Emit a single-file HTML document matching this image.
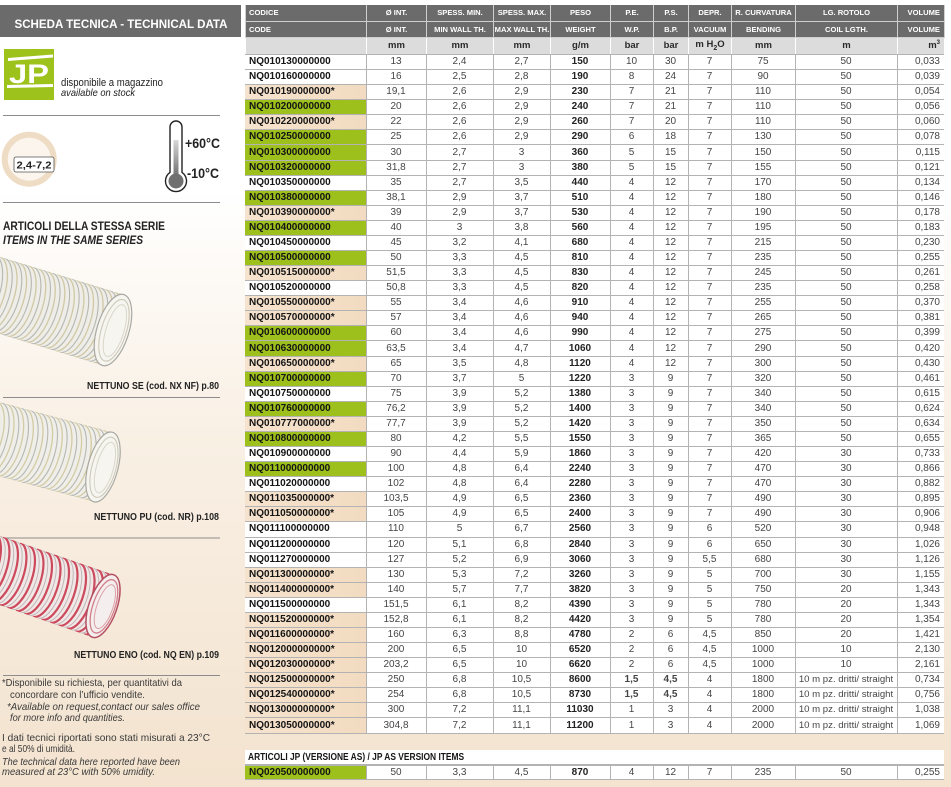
<!DOCTYPE html>
<html><head><meta charset="utf-8">
<style>
html,body{margin:0;padding:0}
body{width:951px;height:787px;position:relative;overflow:hidden;background:linear-gradient(180deg,#ffffff 0px,#ffffff 190px,#f9f0e5 430px,#f3e3cf 787px);font-family:"Liberation Sans",sans-serif}
.t{position:absolute;left:245px;width:699px;border-collapse:collapse;table-layout:fixed}
.t td{padding:0;text-align:center;overflow:hidden;white-space:nowrap}
#h{top:5px;height:49px}
#h tr.a td,#h tr.b td{background:#6b6b6b;color:#fff;font-weight:bold;font-size:7.6px;border:1px solid #cfcfcf;border-top:none}
#h tr.a{height:16px}#h tr.b{height:16px}#h tr.c{height:17px}
#h tr.c td{background:#dcdcdc;color:#2a2a2a;font-weight:bold;font-size:9.5px;border-left:1px solid #fff;border-right:1px solid #fff}
#h td:first-child{text-align:left;padding-left:3px;border-left:none}
#h td:last-child{text-align:right;padding-right:4px;border-right:none}
#d{top:54px;height:680px}
#d td,#b td{border:1px solid #b3b3b3;font-size:10px;line-height:10px;color:#454545;background:#fff}
#d td:first-child,#b td:first-child{text-align:left;padding-left:4px;font-weight:bold;color:#141414;border-left:none}
#d td:nth-child(5),#b td:nth-child(5){font-weight:bold;color:#222}
#d td:last-child,#b td:last-child{text-align:right;padding-right:4px;border-right:none}
#d tr.g td:first-child,#b tr.g td:first-child{background:#9dc01c}
#d tr.p td:first-child{background:linear-gradient(90deg,#f6e3ce,#f2dbc0)}
td.s{font-size:9.6px !important}
#band{position:absolute;left:245px;top:750px;width:699px;height:15px;background:#fff;border-bottom:1px solid #b3b3b3;box-sizing:border-box}
#band span{position:absolute;left:3px;top:2px;font-weight:bold;font-size:10px;line-height:11px;color:#151515;white-space:nowrap;transform:scaleX(0.84);transform-origin:0 0}
#b{top:765px;height:15px}
</style></head><body>

<svg style="position:absolute;left:0;top:0" width="245" height="787" viewBox="0 0 245 787" font-family="'Liberation Sans', sans-serif">
<defs>
<linearGradient id="mg" x1="0" y1="0" x2="0" y2="1"><stop offset="0" stop-color="#d8d8d8"/><stop offset="1" stop-color="#707070"/></linearGradient>
<clipPath id="c1"><rect x="-220" y="-37" width="220" height="74"/><ellipse cx="0" cy="0" rx="16" ry="37"/></clipPath>
<clipPath id="c2"><rect x="-220" y="-36" width="220" height="72"/><ellipse cx="0" cy="0" rx="15" ry="36"/></clipPath>
<clipPath id="c3"><rect x="-220" y="-33" width="220" height="66"/><ellipse cx="0" cy="0" rx="14" ry="33"/></clipPath>
</defs>
<rect x="0" y="5" width="241" height="32" fill="#6b6b6b"/>
<text x="121" y="28" text-anchor="middle" font-weight="bold" font-size="11.5" fill="#fff" textLength="213" lengthAdjust="spacingAndGlyphs">SCHEDA TECNICA - TECHNICAL DATA</text>
<rect x="4" y="49" width="50" height="51" fill="#9dc21c"/>
<polygon points="8,58 53,54.5 53,57.5 8,61" fill="#fff"/>
<text x="9" y="83" font-weight="bold" font-size="27" fill="#fff" textLength="40" lengthAdjust="spacingAndGlyphs">JP</text>
<polygon points="7,85 53,84 53,87 7,88" fill="#fff"/>
<text x="61" y="86" font-size="11" fill="#222" textLength="102" lengthAdjust="spacingAndGlyphs">disponibile a magazzino</text>
<text x="61" y="96" font-size="10.5" font-style="italic" fill="#222" textLength="74" lengthAdjust="spacingAndGlyphs">available on stock</text>
<line x1="3" y1="115.5" x2="220" y2="115.5" stroke="#8c8c8c" stroke-width="1"/>
<circle cx="29.2" cy="159.2" r="24.5" fill="#fbf5ee" stroke="#efdcc4" stroke-width="6"/>
<rect x="14" y="157" width="40" height="15" rx="2" fill="#fff" stroke="#555" stroke-width="0.8"/>
<text x="34" y="168.5" text-anchor="middle" font-weight="bold" font-size="10" fill="#222" textLength="35" lengthAdjust="spacingAndGlyphs">2,4-7,2</text>
<path d="M170,172.4 V127 A6,6 0 0 1 182,127 V172.4 A10.5,10.5 0 1 1 170,172.4 Z" fill="#fff" stroke="#222" stroke-width="1.4"/>
<rect x="173.5" y="140" width="5" height="36" fill="url(#mg)"/>
<circle cx="176" cy="181" r="7.5" fill="#707070"/>
<text x="185" y="148" font-weight="bold" font-size="13.5" fill="#222" textLength="35" lengthAdjust="spacingAndGlyphs">+60°C</text>
<text x="187" y="178" font-weight="bold" font-size="13.5" fill="#222" textLength="32" lengthAdjust="spacingAndGlyphs">-10°C</text>
<line x1="3" y1="202.5" x2="220" y2="202.5" stroke="#8c8c8c" stroke-width="1"/>
<text x="3" y="230" font-weight="bold" font-size="11.5" fill="#222" textLength="162" lengthAdjust="spacingAndGlyphs">ARTICOLI DELLA STESSA SERIE</text>
<text x="3" y="244" font-weight="bold" font-style="italic" font-size="11.5" fill="#222" textLength="140" lengthAdjust="spacingAndGlyphs">ITEMS IN THE SAME SERIES</text>

<g transform="translate(113,330) rotate(17)">
<g clip-path="url(#c1)">
<rect x="-220" y="-37" width="240" height="74" fill="#eeede7"/>
<path d="M0,-37a16,37 0 0 1 0,74M-10,-37a16,37 0 0 1 0,74M-20,-37a16,37 0 0 1 0,74M-30,-37a16,37 0 0 1 0,74M-40,-37a16,37 0 0 1 0,74M-50,-37a16,37 0 0 1 0,74M-60,-37a16,37 0 0 1 0,74M-70,-37a16,37 0 0 1 0,74M-80,-37a16,37 0 0 1 0,74M-90,-37a16,37 0 0 1 0,74M-100,-37a16,37 0 0 1 0,74M-110,-37a16,37 0 0 1 0,74M-120,-37a16,37 0 0 1 0,74M-130,-37a16,37 0 0 1 0,74M-140,-37a16,37 0 0 1 0,74M-150,-37a16,37 0 0 1 0,74" fill="none" stroke="#d0c8a4" stroke-width="1.3"/>
<path d="M-5,-37a16,37 0 0 1 0,74M-15,-37a16,37 0 0 1 0,74M-25,-37a16,37 0 0 1 0,74M-35,-37a16,37 0 0 1 0,74M-45,-37a16,37 0 0 1 0,74M-55,-37a16,37 0 0 1 0,74M-65,-37a16,37 0 0 1 0,74M-75,-37a16,37 0 0 1 0,74M-85,-37a16,37 0 0 1 0,74M-95,-37a16,37 0 0 1 0,74M-105,-37a16,37 0 0 1 0,74M-115,-37a16,37 0 0 1 0,74M-125,-37a16,37 0 0 1 0,74M-135,-37a16,37 0 0 1 0,74M-145,-37a16,37 0 0 1 0,74" fill="none" stroke="#b6b6b2" stroke-width="1.1"/>
</g>
<ellipse cx="0" cy="0" rx="16" ry="37" fill="#f6f5f0" stroke="#a9a9a2" stroke-width="1.2"/>
<ellipse cx="1" cy="0" rx="12.5" ry="32" fill="none" stroke="#cdc8b8" stroke-width="1.1"/>
<ellipse cx="2" cy="0" rx="9" ry="27" fill="none" stroke="#dad6c9" stroke-width="1"/>
</g>
<text x="219" y="389" text-anchor="end" font-weight="bold" font-size="10.5" fill="#222" textLength="132" lengthAdjust="spacingAndGlyphs">NETTUNO SE (cod. NX NF) p.80</text>
<line x1="3" y1="397.5" x2="220" y2="397.5" stroke="#8c8c8c" stroke-width="1"/>

<g transform="translate(103,467) rotate(15)">
<g clip-path="url(#c2)">
<rect x="-220" y="-36" width="240" height="72" fill="#efeee9"/>
<path d="M0,-36a15,36 0 0 1 0,72M-10,-36a15,36 0 0 1 0,72M-20,-36a15,36 0 0 1 0,72M-30,-36a15,36 0 0 1 0,72M-40,-36a15,36 0 0 1 0,72M-50,-36a15,36 0 0 1 0,72M-60,-36a15,36 0 0 1 0,72M-70,-36a15,36 0 0 1 0,72M-80,-36a15,36 0 0 1 0,72M-90,-36a15,36 0 0 1 0,72M-100,-36a15,36 0 0 1 0,72M-110,-36a15,36 0 0 1 0,72M-120,-36a15,36 0 0 1 0,72M-130,-36a15,36 0 0 1 0,72M-140,-36a15,36 0 0 1 0,72" fill="none" stroke="#d3cba3" stroke-width="1.3"/>
<path d="M-5,-36a15,36 0 0 1 0,72M-15,-36a15,36 0 0 1 0,72M-25,-36a15,36 0 0 1 0,72M-35,-36a15,36 0 0 1 0,72M-45,-36a15,36 0 0 1 0,72M-55,-36a15,36 0 0 1 0,72M-65,-36a15,36 0 0 1 0,72M-75,-36a15,36 0 0 1 0,72M-85,-36a15,36 0 0 1 0,72M-95,-36a15,36 0 0 1 0,72M-105,-36a15,36 0 0 1 0,72M-115,-36a15,36 0 0 1 0,72M-125,-36a15,36 0 0 1 0,72M-135,-36a15,36 0 0 1 0,72" fill="none" stroke="#b6b6b2" stroke-width="1.1"/>
</g>
<ellipse cx="0" cy="0" rx="15" ry="36" fill="#f6f5f0" stroke="#a9a9a2" stroke-width="1.2"/>
<ellipse cx="1" cy="0" rx="12" ry="31" fill="none" stroke="#cdc8b8" stroke-width="1.1"/>
<ellipse cx="2" cy="0" rx="8.5" ry="26" fill="none" stroke="#dad6c9" stroke-width="1"/>
</g>
<text x="219" y="520" text-anchor="end" font-weight="bold" font-size="10.5" fill="#222" textLength="125" lengthAdjust="spacingAndGlyphs">NETTUNO PU (cod. NR) p.108</text>
<line x1="3" y1="538" x2="220" y2="538" stroke="#8c8c8c" stroke-width="1"/>

<g transform="translate(103,606) rotate(19)">
<g clip-path="url(#c3)">
<rect x="-220" y="-33" width="240" height="66" fill="#f0e8e6"/>
<path d="M0,-33a14,33 0 0 1 0,66M-9,-33a14,33 0 0 1 0,66M-18,-33a14,33 0 0 1 0,66M-27,-33a14,33 0 0 1 0,66M-36,-33a14,33 0 0 1 0,66M-45,-33a14,33 0 0 1 0,66M-54,-33a14,33 0 0 1 0,66M-63,-33a14,33 0 0 1 0,66M-72,-33a14,33 0 0 1 0,66M-81,-33a14,33 0 0 1 0,66M-90,-33a14,33 0 0 1 0,66M-99,-33a14,33 0 0 1 0,66M-108,-33a14,33 0 0 1 0,66M-117,-33a14,33 0 0 1 0,66M-126,-33a14,33 0 0 1 0,66M-135,-33a14,33 0 0 1 0,66M-144,-33a14,33 0 0 1 0,66" fill="none" stroke="#cc4a5c" stroke-width="2.2"/>
<path d="M-4.5,-33a14,33 0 0 1 0,66M-13.5,-33a14,33 0 0 1 0,66M-22.5,-33a14,33 0 0 1 0,66M-31.5,-33a14,33 0 0 1 0,66M-40.5,-33a14,33 0 0 1 0,66M-49.5,-33a14,33 0 0 1 0,66M-58.5,-33a14,33 0 0 1 0,66M-67.5,-33a14,33 0 0 1 0,66M-76.5,-33a14,33 0 0 1 0,66M-85.5,-33a14,33 0 0 1 0,66M-94.5,-33a14,33 0 0 1 0,66M-103.5,-33a14,33 0 0 1 0,66M-112.5,-33a14,33 0 0 1 0,66M-121.5,-33a14,33 0 0 1 0,66M-130.5,-33a14,33 0 0 1 0,66M-139.5,-33a14,33 0 0 1 0,66" fill="none" stroke="#c0b6b6" stroke-width="1"/>
</g>
<ellipse cx="0" cy="0" rx="14" ry="33" fill="#f5eeee" stroke="#b45060" stroke-width="1.5"/>
<ellipse cx="1" cy="0" rx="11" ry="28" fill="none" stroke="#d27f8a" stroke-width="1.3"/>
<ellipse cx="2" cy="0" rx="8" ry="23" fill="none" stroke="#dca2a8" stroke-width="1"/>
</g>
<text x="219" y="658" text-anchor="end" font-weight="bold" font-size="10.5" fill="#222" textLength="145" lengthAdjust="spacingAndGlyphs">NETTUNO ENO (cod. NQ EN) p.109</text>
<line x1="3" y1="675.5" x2="220" y2="675.5" stroke="#8c8c8c" stroke-width="1"/>

<g font-size="10.5" fill="#3a3a3a">
<text x="2" y="686" textLength="180" lengthAdjust="spacingAndGlyphs">*Disponibile su richiesta, per quantitativi da</text>
<text x="10" y="698" textLength="135" lengthAdjust="spacingAndGlyphs">concordare con l’ufficio vendite.</text>
<text x="7" y="710" font-style="italic" textLength="193" lengthAdjust="spacingAndGlyphs">*Available on request,contact our sales office</text>
<text x="10" y="721" font-style="italic" textLength="115" lengthAdjust="spacingAndGlyphs">for more info and quantities.</text>
<text x="2" y="741" textLength="208" lengthAdjust="spacingAndGlyphs">I dati tecnici riportati sono stati misurati a 23°C</text>
<text x="2" y="752" textLength="73" lengthAdjust="spacingAndGlyphs">e al 50% di umidità.</text>
<text x="2" y="765" font-style="italic" textLength="178" lengthAdjust="spacingAndGlyphs">The technical data here reported have been</text>
<text x="2" y="775" font-style="italic" textLength="153" lengthAdjust="spacingAndGlyphs">measured at 23°C with 50% umidity.</text>
</g>
</svg>

<table class="t" id="h">
<colgroup><col style="width:121px"><col style="width:60px"><col style="width:67px"><col style="width:57px"><col style="width:60px"><col style="width:43px"><col style="width:35px"><col style="width:43px"><col style="width:64px"><col style="width:102px"><col style="width:47px"></colgroup>
<tr class="a"><td>CODICE</td><td>Ø INT.</td><td>SPESS. MIN.</td><td>SPESS. MAX.</td><td>PESO</td><td>P.E.</td><td>P.S.</td><td>DEPR.</td><td>R. CURVATURA</td><td>LG. ROTOLO</td><td>VOLUME</td></tr>
<tr class="b"><td>CODE</td><td>Ø INT.</td><td>MIN WALL TH.</td><td>MAX WALL TH.</td><td>WEIGHT</td><td>W.P.</td><td>B.P.</td><td>VACUUM</td><td>BENDING</td><td>COIL LGTH.</td><td>VOLUME</td></tr>
<tr class="c"><td></td><td>mm</td><td>mm</td><td>mm</td><td>g/m</td><td>bar</td><td>bar</td><td>m H<sub style="font-size:7px">2</sub>O</td><td>mm</td><td>m</td><td>m<sup style="font-size:6px">3</sup></td></tr>
</table>

<table class="t" id="d">
<colgroup><col style="width:121px"><col style="width:60px"><col style="width:67px"><col style="width:57px"><col style="width:60px"><col style="width:43px"><col style="width:35px"><col style="width:43px"><col style="width:64px"><col style="width:102px"><col style="width:47px"></colgroup>
<tr class="w"><td>NQ010130000000</td><td>13</td><td>2,4</td><td>2,7</td><td>150</td><td>10</td><td>30</td><td>7</td><td>75</td><td>50</td><td>0,033</td></tr>
<tr class="w"><td>NQ010160000000</td><td>16</td><td>2,5</td><td>2,8</td><td>190</td><td>8</td><td>24</td><td>7</td><td>90</td><td>50</td><td>0,039</td></tr>
<tr class="p"><td>NQ010190000000*</td><td>19,1</td><td>2,6</td><td>2,9</td><td>230</td><td>7</td><td>21</td><td>7</td><td>110</td><td>50</td><td>0,054</td></tr>
<tr class="g"><td>NQ010200000000</td><td>20</td><td>2,6</td><td>2,9</td><td>240</td><td>7</td><td>21</td><td>7</td><td>110</td><td>50</td><td>0,056</td></tr>
<tr class="p"><td>NQ010220000000*</td><td>22</td><td>2,6</td><td>2,9</td><td>260</td><td>7</td><td>20</td><td>7</td><td>110</td><td>50</td><td>0,060</td></tr>
<tr class="g"><td>NQ010250000000</td><td>25</td><td>2,6</td><td>2,9</td><td>290</td><td>6</td><td>18</td><td>7</td><td>130</td><td>50</td><td>0,078</td></tr>
<tr class="g"><td>NQ010300000000</td><td>30</td><td>2,7</td><td>3</td><td>360</td><td>5</td><td>15</td><td>7</td><td>150</td><td>50</td><td>0,115</td></tr>
<tr class="g"><td>NQ010320000000</td><td>31,8</td><td>2,7</td><td>3</td><td>380</td><td>5</td><td>15</td><td>7</td><td>155</td><td>50</td><td>0,121</td></tr>
<tr class="w"><td>NQ010350000000</td><td>35</td><td>2,7</td><td>3,5</td><td>440</td><td>4</td><td>12</td><td>7</td><td>170</td><td>50</td><td>0,134</td></tr>
<tr class="g"><td>NQ010380000000</td><td>38,1</td><td>2,9</td><td>3,7</td><td>510</td><td>4</td><td>12</td><td>7</td><td>180</td><td>50</td><td>0,146</td></tr>
<tr class="p"><td>NQ010390000000*</td><td>39</td><td>2,9</td><td>3,7</td><td>530</td><td>4</td><td>12</td><td>7</td><td>190</td><td>50</td><td>0,178</td></tr>
<tr class="g"><td>NQ010400000000</td><td>40</td><td>3</td><td>3,8</td><td>560</td><td>4</td><td>12</td><td>7</td><td>195</td><td>50</td><td>0,183</td></tr>
<tr class="w"><td>NQ010450000000</td><td>45</td><td>3,2</td><td>4,1</td><td>680</td><td>4</td><td>12</td><td>7</td><td>215</td><td>50</td><td>0,230</td></tr>
<tr class="g"><td>NQ010500000000</td><td>50</td><td>3,3</td><td>4,5</td><td>810</td><td>4</td><td>12</td><td>7</td><td>235</td><td>50</td><td>0,255</td></tr>
<tr class="p"><td>NQ010515000000*</td><td>51,5</td><td>3,3</td><td>4,5</td><td>830</td><td>4</td><td>12</td><td>7</td><td>245</td><td>50</td><td>0,261</td></tr>
<tr class="w"><td>NQ010520000000</td><td>50,8</td><td>3,3</td><td>4,5</td><td>820</td><td>4</td><td>12</td><td>7</td><td>235</td><td>50</td><td>0,258</td></tr>
<tr class="p"><td>NQ010550000000*</td><td>55</td><td>3,4</td><td>4,6</td><td>910</td><td>4</td><td>12</td><td>7</td><td>255</td><td>50</td><td>0,370</td></tr>
<tr class="p"><td>NQ010570000000*</td><td>57</td><td>3,4</td><td>4,6</td><td>940</td><td>4</td><td>12</td><td>7</td><td>265</td><td>50</td><td>0,381</td></tr>
<tr class="g"><td>NQ010600000000</td><td>60</td><td>3,4</td><td>4,6</td><td>990</td><td>4</td><td>12</td><td>7</td><td>275</td><td>50</td><td>0,399</td></tr>
<tr class="g"><td>NQ010630000000</td><td>63,5</td><td>3,4</td><td>4,7</td><td>1060</td><td>4</td><td>12</td><td>7</td><td>290</td><td>50</td><td>0,420</td></tr>
<tr class="p"><td>NQ010650000000*</td><td>65</td><td>3,5</td><td>4,8</td><td>1120</td><td>4</td><td>12</td><td>7</td><td>300</td><td>50</td><td>0,430</td></tr>
<tr class="g"><td>NQ010700000000</td><td>70</td><td>3,7</td><td>5</td><td>1220</td><td>3</td><td>9</td><td>7</td><td>320</td><td>50</td><td>0,461</td></tr>
<tr class="w"><td>NQ010750000000</td><td>75</td><td>3,9</td><td>5,2</td><td>1380</td><td>3</td><td>9</td><td>7</td><td>340</td><td>50</td><td>0,615</td></tr>
<tr class="g"><td>NQ010760000000</td><td>76,2</td><td>3,9</td><td>5,2</td><td>1400</td><td>3</td><td>9</td><td>7</td><td>340</td><td>50</td><td>0,624</td></tr>
<tr class="p"><td>NQ010777000000*</td><td>77,7</td><td>3,9</td><td>5,2</td><td>1420</td><td>3</td><td>9</td><td>7</td><td>350</td><td>50</td><td>0,634</td></tr>
<tr class="g"><td>NQ010800000000</td><td>80</td><td>4,2</td><td>5,5</td><td>1550</td><td>3</td><td>9</td><td>7</td><td>365</td><td>50</td><td>0,655</td></tr>
<tr class="w"><td>NQ010900000000</td><td>90</td><td>4,4</td><td>5,9</td><td>1860</td><td>3</td><td>9</td><td>7</td><td>420</td><td>30</td><td>0,733</td></tr>
<tr class="g"><td>NQ011000000000</td><td>100</td><td>4,8</td><td>6,4</td><td>2240</td><td>3</td><td>9</td><td>7</td><td>470</td><td>30</td><td>0,866</td></tr>
<tr class="w"><td>NQ011020000000</td><td>102</td><td>4,8</td><td>6,4</td><td>2280</td><td>3</td><td>9</td><td>7</td><td>470</td><td>30</td><td>0,882</td></tr>
<tr class="p"><td>NQ011035000000*</td><td>103,5</td><td>4,9</td><td>6,5</td><td>2360</td><td>3</td><td>9</td><td>7</td><td>490</td><td>30</td><td>0,895</td></tr>
<tr class="p"><td>NQ011050000000*</td><td>105</td><td>4,9</td><td>6,5</td><td>2400</td><td>3</td><td>9</td><td>7</td><td>490</td><td>30</td><td>0,906</td></tr>
<tr class="w"><td>NQ011100000000</td><td>110</td><td>5</td><td>6,7</td><td>2560</td><td>3</td><td>9</td><td>6</td><td>520</td><td>30</td><td>0,948</td></tr>
<tr class="w"><td>NQ011200000000</td><td>120</td><td>5,1</td><td>6,8</td><td>2840</td><td>3</td><td>9</td><td>6</td><td>650</td><td>30</td><td>1,026</td></tr>
<tr class="w"><td>NQ011270000000</td><td>127</td><td>5,2</td><td>6,9</td><td>3060</td><td>3</td><td>9</td><td>5,5</td><td>680</td><td>30</td><td>1,126</td></tr>
<tr class="p"><td>NQ011300000000*</td><td>130</td><td>5,3</td><td>7,2</td><td>3260</td><td>3</td><td>9</td><td>5</td><td>700</td><td>30</td><td>1,155</td></tr>
<tr class="p"><td>NQ011400000000*</td><td>140</td><td>5,7</td><td>7,7</td><td>3820</td><td>3</td><td>9</td><td>5</td><td>750</td><td>20</td><td>1,343</td></tr>
<tr class="w"><td>NQ011500000000</td><td>151,5</td><td>6,1</td><td>8,2</td><td>4390</td><td>3</td><td>9</td><td>5</td><td>780</td><td>20</td><td>1,343</td></tr>
<tr class="p"><td>NQ011520000000*</td><td>152,8</td><td>6,1</td><td>8,2</td><td>4420</td><td>3</td><td>9</td><td>5</td><td>780</td><td>20</td><td>1,354</td></tr>
<tr class="p"><td>NQ011600000000*</td><td>160</td><td>6,3</td><td>8,8</td><td>4780</td><td>2</td><td>6</td><td>4,5</td><td>850</td><td>20</td><td>1,421</td></tr>
<tr class="p"><td>NQ012000000000*</td><td>200</td><td>6,5</td><td>10</td><td>6520</td><td>2</td><td>6</td><td>4,5</td><td>1000</td><td>10</td><td>2,130</td></tr>
<tr class="p"><td>NQ012030000000*</td><td>203,2</td><td>6,5</td><td>10</td><td>6620</td><td>2</td><td>6</td><td>4,5</td><td>1000</td><td>10</td><td>2,161</td></tr>
<tr class="p"><td>NQ012500000000*</td><td>250</td><td>6,8</td><td>10,5</td><td>8600</td><td><b>1,5</b></td><td><b>4,5</b></td><td>4</td><td>1800</td><td class="s">10 m pz. dritti/ straight</td><td>0,734</td></tr>
<tr class="p"><td>NQ012540000000*</td><td>254</td><td>6,8</td><td>10,5</td><td>8730</td><td><b>1,5</b></td><td><b>4,5</b></td><td>4</td><td>1800</td><td class="s">10 m pz. dritti/ straight</td><td>0,756</td></tr>
<tr class="p"><td>NQ013000000000*</td><td>300</td><td>7,2</td><td>11,1</td><td>11030</td><td>1</td><td>3</td><td>4</td><td>2000</td><td class="s">10 m pz. dritti/ straight</td><td>1,038</td></tr>
<tr class="p"><td>NQ013050000000*</td><td>304,8</td><td>7,2</td><td>11,1</td><td>11200</td><td>1</td><td>3</td><td>4</td><td>2000</td><td class="s">10 m pz. dritti/ straight</td><td>1,069</td></tr>
</table>

<div id="band"><span>ARTICOLI JP (VERSIONE AS) / JP AS VERSION ITEMS</span></div>

<table class="t" id="b">
<colgroup><col style="width:121px"><col style="width:60px"><col style="width:67px"><col style="width:57px"><col style="width:60px"><col style="width:43px"><col style="width:35px"><col style="width:43px"><col style="width:64px"><col style="width:102px"><col style="width:47px"></colgroup>
<tr class="g"><td>NQ020500000000</td><td>50</td><td>3,3</td><td>4,5</td><td>870</td><td>4</td><td>12</td><td>7</td><td>235</td><td>50</td><td>0,255</td></tr>
</table>

</body></html>
